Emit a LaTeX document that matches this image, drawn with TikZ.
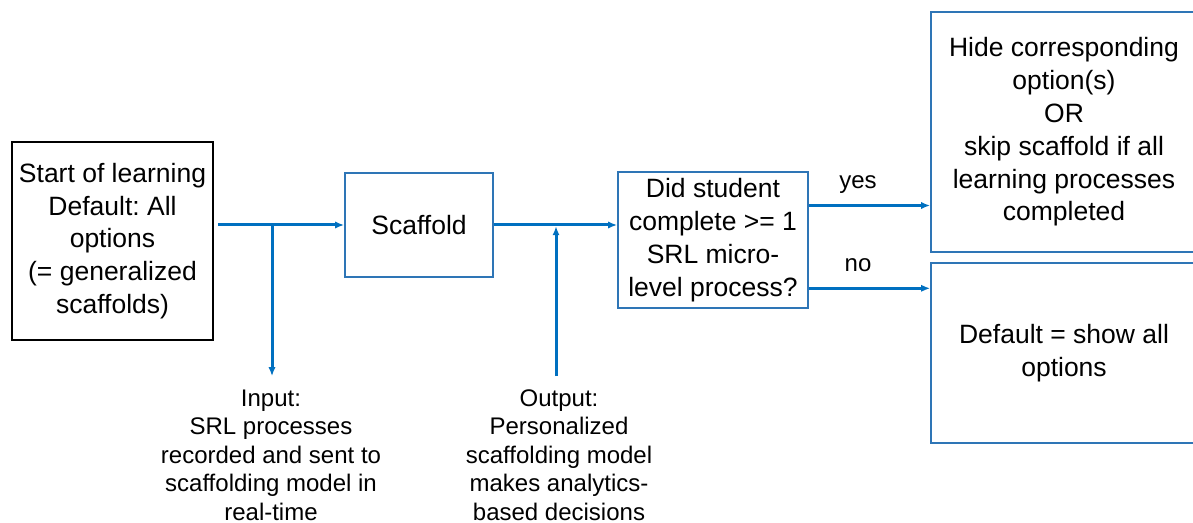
\documentclass[tikz,border=0pt]{standalone}
\usepackage{fontspec}
\setmainfont{Liberation Sans}
\usepackage{xcolor}
\usetikzlibrary{positioning,calc,arrows.meta}
\definecolor{flowblue}{RGB}{0,112,192}
\definecolor{boxblue}{RGB}{46,117,182}
\tikzset{
box/.style={
  draw=boxblue,
  line width=0.8pt,
  rectangle,
  align=center,
  font=\fontsize{13.25}{16.4}\selectfont
},
startbox/.style={box, draw=black},
note/.style={align=center, inner sep=0.5pt, font=\fontsize{12}{14.25}\selectfont},
flow/.style={draw=flowblue, line width=1.5pt, ->},
>={Latex[length=4.5pt,width=3.6pt]},
}
\frenchspacing

\begin{document}
\begin{tikzpicture}[x=0.5pt,y=-0.5pt]
            \useasboundingbox (0,0) rectangle (1193,523);
            \node[startbox, minimum width=100.5pt, minimum height=99pt] (start) at (112.5,241)
                {Start of learning\\Default: All\\options\\(= generalized\\scaffolds)};
            \node[box, minimum width=74pt, minimum height=52pt] (scaffold) at (419,225) {Scaffold};
            \node[box, minimum width=95pt, minimum height=66pt] (decision) at (713,240)
                {Did student\\complete >= 1\\SRL micro-\\level process?};
            \node[box, minimum width=133pt, minimum height=120pt] (hide) at (1064,132)
                {Hide corresponding\\option(s)\\OR\\skip scaffold if all\\learning processes\\completed};
            \node[box, minimum width=133pt, minimum height=90pt] (default) at (1064,353)
                {Default = show all\\options};

            \node[note] (input) at (271,455)
                {Input:\\SRL processes\\recorded and sent to\\scaffolding model in\\real-time};
            \node[note] (output) at (559,455)
                {Output:\\Personalized\\scaffolding model\\makes analytics-\\based decisions};
            \node[note] (yes) at (858,185) {yes};
            \node[note] (no) at (858,265) {no};

            \coordinate (split) at (272,225);
            \coordinate (merge) at (556,225);
            \coordinate (yesfrom) at ($(decision.north east)!0.25!(decision.south east)$);
            \coordinate (nofrom) at ($(decision.north east)!0.85!(decision.south east)$);
            \begin{scope}
            \draw[flow, shorten <=2pt] (start.east |- scaffold.west) -- (scaffold.west);
            \draw[flow, shorten >=6pt] (split) -- (split |- input.north);
            \draw[flow, shorten <=6pt, shorten >=0.6pt] (merge |- output.north) -- (merge);
            \draw[flow] (scaffold.east) -- (scaffold.east -| decision.west);
            \draw[flow] (yesfrom) -- (yesfrom -| hide.west);
            \draw[flow] (nofrom) -- (nofrom -| default.west);
            \end{scope}
        \end{tikzpicture}
\end{document}
